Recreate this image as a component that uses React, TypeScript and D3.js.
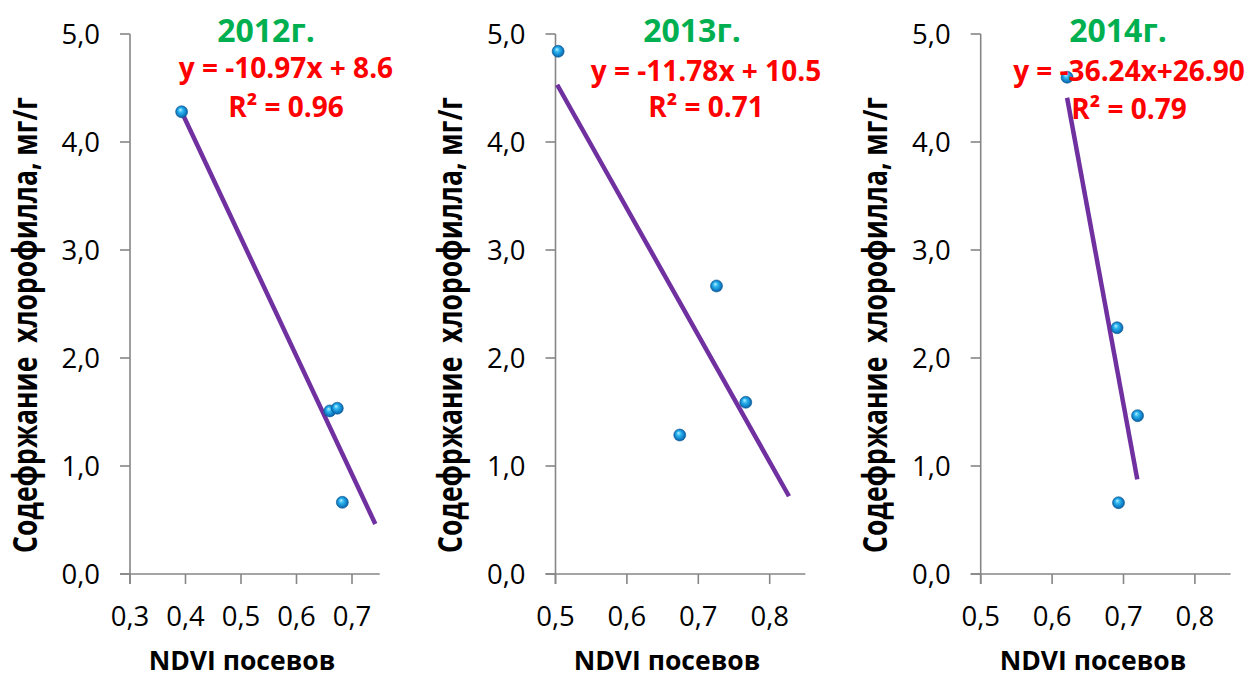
import React from "react";
import * as d3 from "d3";

const years = ["2012г.", "2013г.", "2014г."];
const equations = ["y = -10.97x + 8.6", "y = -11.78x + 10.5", "y = -36.24x+26.90"];
const r2Labels = ["R² = 0.96", "R² = 0.71", "R² = 0.79"];
const yAxisTitle = "Содефржание  хлорофилла, мг/г";
const xAxisTitle = "NDVI посевов";

const ndvi2012 = [0.393, 0.66, 0.6735, 0.6826];
const chl2012 = [4.28, 1.51, 1.535, 0.664];
const ndvi2013 = [0.5037, 0.674, 0.7255, 0.7665];
const chl2013 = [4.84, 1.287, 2.667, 1.59];
const ndvi2014 = [0.621, 0.691, 0.693, 0.7197];
const chl2014 = [4.6, 2.28, 0.66, 1.466];

const trendX2012 = [0.393, 0.742];
const trendY2012 = [4.28, 0.463];
const trendX2013 = [0.5024, 0.827];
const trendY2013 = [4.53, 0.72];
const trendX2014 = [0.621, 0.7193];
const trendY2014 = [4.41, 0.877];

const xDomain2012 = [0.3, 0.75];
const xDomain2013 = [0.5, 0.85];
const xDomain2014 = [0.5, 0.85];
const xTicks2012 = [0.3, 0.4, 0.5, 0.6, 0.7];
const xTicks2013 = [0.5, 0.6, 0.7, 0.8];
const xTicks2014 = [0.5, 0.6, 0.7, 0.8];
const yDomain = [0, 5];
const yTicks = [0, 1, 2, 3, 4, 5];

const panels = [
  { year: years[0], eq: equations[0], r2: r2Labels[0], xs: ndvi2012, ys: chl2012, tx: trendX2012, ty: trendY2012, dom: xDomain2012, ticks: xTicks2012 },
  { year: years[1], eq: equations[1], r2: r2Labels[1], xs: ndvi2013, ys: chl2013, tx: trendX2013, ty: trendY2013, dom: xDomain2013, ticks: xTicks2013 },
  { year: years[2], eq: equations[2], r2: r2Labels[2], xs: ndvi2014, ys: chl2014, tx: trendX2014, ty: trendY2014, dom: xDomain2014, ticks: xTicks2014 },
];

const layout = [
  { x0: 130, x1: 379.75, titleX: 266, eqX: 286, yTitleX: 37, xTitleX: 242, eqY: 78, r2Y: 117 },
  { x0: 555.5, x1: 805.4, titleX: 692, eqX: 706, yTitleX: 462, xTitleX: 667, eqY: 81, r2Y: 117 },
  { x0: 980.7, x1: 1230.6, titleX: 1118, eqX: 1129, yTitleX: 887, xTitleX: 1093, eqY: 81, r2Y: 119 },
];

const FONT = "'Open Sans', 'DejaVu Sans', sans-serif";
const AXIS = "#868686";
const fmt = (v: number) => d3.format(".1f")(v).replace(".", ",");

const Y_TOP = 34;
const Y_BOT = 574;

function Panel({ p, l }: { p: any; l: any }) {
  const x = d3.scaleLinear().domain(p.dom).range([l.x0, l.x1]);
  const y = d3.scaleLinear().domain(yDomain).range([Y_BOT, Y_TOP]);
  const line = d3
    .line<number>()
    .x((d) => x(d))
    .y((_, i) => y(p.ty[i]));
  return (
    <g>
      {/* y axis */}
      <line x1={x(p.dom[0])} x2={x(p.dom[0])} y1={Y_TOP} y2={Y_BOT + 10} stroke={AXIS} strokeWidth={1.6} />
      {yTicks.map((t) => (
        <g key={"y" + t}>
          <line x1={x(p.dom[0]) - 10} x2={x(p.dom[0])} y1={y(t)} y2={y(t)} stroke={AXIS} strokeWidth={1.6} />
          <text x={x(p.dom[0]) - 30} y={y(t)} dy="0.36em" textAnchor="end" fontFamily={FONT} fontSize={27.5} fill="#000">
            {fmt(t)}
          </text>
        </g>
      ))}
      {/* x axis */}
      <line x1={x(p.dom[0]) - 10} x2={x(p.dom[1])} y1={Y_BOT} y2={Y_BOT} stroke={AXIS} strokeWidth={1.6} />
      {p.ticks.map((t: number) => (
        <g key={"x" + t}>
          <line x1={x(t)} x2={x(t)} y1={Y_BOT} y2={Y_BOT + 10} stroke={AXIS} strokeWidth={1.6} />
          <text x={x(t)} y={626} textAnchor="middle" fontFamily={FONT} fontSize={27.5} fill="#000">
            {fmt(t)}
          </text>
        </g>
      ))}
      {/* trend line */}
      <path d={line(p.tx) || ""} stroke="#7030A0" strokeWidth={4.5} fill="none" />
      {/* points */}
      {p.xs.map((v: number, i: number) => (
        <circle key={"pt" + i} cx={x(v)} cy={y(p.ys[i])} r={6} fill="url(#ball)" stroke="#0b5a96" strokeWidth={0.6} />
      ))}
      {/* titles */}
      <text x={l.titleX} y={42} textAnchor="middle" fontFamily={FONT} fontWeight="bold" fontSize={32} fill="#00B050">
        {p.year}
      </text>
      <text x={l.eqX} y={l.eqY} textAnchor="middle" fontFamily={FONT} fontWeight="bold" fontSize={28} fill="#FF0000">
        {p.eq}
      </text>
      <text x={l.eqX} y={l.r2Y} textAnchor="middle" fontFamily={FONT} fontWeight="bold" fontSize={28} fill="#FF0000">
        {p.r2}
      </text>
      <text
        transform={`translate(${l.yTitleX},325) rotate(-90) scale(1,1.18)`}
        textAnchor="middle"
        fontFamily={FONT}
        fontWeight="bold"
        fontSize={28}
        fill="#000"
        textLength={456}
        lengthAdjust="spacingAndGlyphs"
        style={{ whiteSpace: "pre" }}
      >
        {yAxisTitle}
      </text>
      <text x={l.xTitleX} y={670} textAnchor="middle" fontFamily={FONT} fontWeight="bold" fontSize={26.5} fill="#000">
        {xAxisTitle}
      </text>
    </g>
  );
}

export default function App() {
  return (
    <svg width={1250} height={678} style={{ position: "absolute", left: 0, top: 0, background: "#fff" }}>
      <defs>
        <radialGradient id="ball" cx="50%" cy="50%" r="55%" fx="38%" fy="32%">
          <stop offset="0%" stopColor="#bdf0ff" />
          <stop offset="35%" stopColor="#2cb6f0" />
          <stop offset="75%" stopColor="#0f7cc4" />
          <stop offset="100%" stopColor="#0a4f8a" />
        </radialGradient>
      </defs>
      <rect x={0} y={0} width={1250} height={678} fill="#fff" />
      {panels.map((p, i) => (
        <Panel key={i} p={p} l={layout[i]} />
      ))}
    </svg>
  );
}
